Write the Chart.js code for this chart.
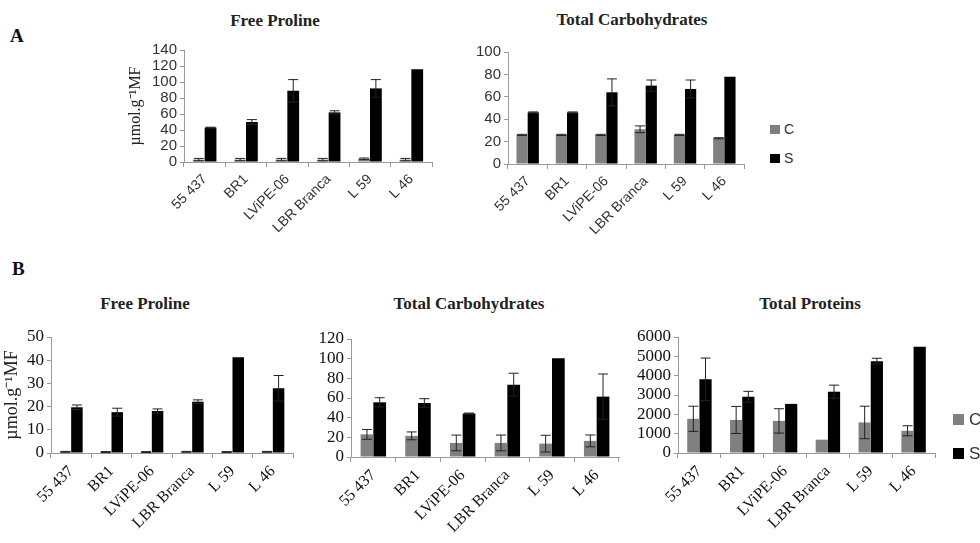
<!DOCTYPE html>
<html>
<head>
<meta charset="utf-8">
<script src="https://cdn.jsdelivr.net/npm/chart.js@4/dist/chart.umd.min.js"></script>
<style>
  html, body { margin: 0; padding: 0; background: #fff; }
  body { width: 980px; height: 543px; position: relative; overflow: hidden; }
  .box { position: absolute; }
  .panel { position: absolute; font: bold 19px "Liberation Serif", serif; line-height: 1; color: #111; }
  .title { position: absolute; transform: translateX(-50%); white-space: nowrap;
           font: bold 17px "Liberation Serif", serif; line-height: 1; color: #222; }
  .leg { position: absolute; font-family: "Liberation Sans", sans-serif; color: #333; line-height: 1; white-space: nowrap; }
  .leg span { display: inline-block; vertical-align: middle; }
</style>
</head>
<body>
<div class="panel" style="left:10px;top:26px;">A</div>
<div class="panel" style="left:12px;top:259px;">B</div>

<div class="title" style="left:275px;top:12px;">Free Proline</div>
<div class="title" style="left:632px;top:11px;">Total Carbohydrates</div>
<div class="title" style="left:145px;top:295px;">Free Proline</div>
<div class="title" style="left:469px;top:295px;">Total Carbohydrates</div>
<div class="title" style="left:810px;top:295px;">Total Proteins</div>

<div class="box" style="left:110px;top:30px;width:335px;height:215px;"><canvas id="a1"></canvas></div>
<div class="box" style="left:450px;top:30px;width:310px;height:217px;"><canvas id="a2"></canvas></div>
<div class="box" style="left:0px;top:315px;width:305px;height:226px;"><canvas id="b1"></canvas></div>
<div class="box" style="left:300px;top:315px;width:330px;height:226px;"><canvas id="b2"></canvas></div>
<div class="box" style="left:625px;top:315px;width:320px;height:226px;"><canvas id="b3"></canvas></div>

<div class="leg" style="left:770px;top:121px;font-size:14px;"><span style="width:10px;height:9px;background:#808080;margin-right:4px;"></span><span>C</span></div>
<div class="leg" style="left:770px;top:150px;font-size:14px;"><span style="width:10px;height:9px;background:#000;margin-right:4px;"></span><span>S</span></div>
<div class="leg" style="left:953px;top:410px;font-size:17px;"><span style="width:11px;height:11px;background:#808080;margin-right:5px;"></span><span>C</span></div>
<div class="leg" style="left:953px;top:444px;font-size:17px;"><span style="width:11px;height:11px;background:#000;margin-right:5px;"></span><span>S</span></div>

<script>
const cultivars = ['55 437', 'BR1', 'LViPE-06', 'LBR Branca', 'L 59', 'L 46'];
const yLabel = 'µmol.g⁻¹MF';

// A - free proline
const prolineA_C = [3, 3, 3, 3, 4, 3];
const prolineA_Cerr = [1.5, 1.5, 1.5, 1.5, 1, 1.5];
const prolineA_S = [43, 50, 89, 62, 92, 116];
const prolineA_Serr = [0.5, 3, 14, 2, 11, 0];

// A - total carbohydrates
const carboA_C = [26, 26, 26, 31, 26, 23];
const carboA_Cerr = [0.5, 0.5, 0.5, 3, 0.5, 0.5];
const carboA_S = [46, 46, 64, 70, 67, 78];
const carboA_Serr = [0.5, 0.5, 12, 5, 8, 0];

// B - free proline
const prolineB_C = [0.5, 0.4, 0.4, 0.5, 0.4, 0.5];
const prolineB_Cerr = [0.2, 0.2, 0.2, 0.2, 0.2, 0.2];
const prolineB_S = [19.7, 17.6, 18.1, 22.1, 41.3, 27.9];
const prolineB_Serr = [1, 1.7, 0.9, 0.8, 0, 5.5];

// B - total carbohydrates
const carboB_C = [23, 21.5, 14.3, 14.3, 13.6, 16.4];
const carboB_Cerr = [5, 4, 8, 8, 8.5, 6];
const carboB_S = [55.6, 54.9, 44.2, 73.6, 100.4, 61.4];
const carboB_Serr = [4.7, 4.4, 0.5, 11.6, 0, 23];

// B - total proteins
const proteinB_C = [1770, 1710, 1660, 690, 1580, 1150];
const proteinB_Cerr = [650, 700, 630, 0, 840, 260];
const proteinB_S = [3810, 2910, 2540, 3170, 4750, 5490];
const proteinB_Serr = [1100, 280, 0, 340, 150, 0];

// draws the I-shaped error bars on top of each bar
const errorBars = {
  id: 'errorBars',
  afterDatasetsDraw(chart) {
    const ctx = chart.ctx;
    const y = chart.scales.y;
    chart.data.datasets.forEach((ds, i) => {
      const meta = chart.getDatasetMeta(i);
      meta.data.forEach((bar, j) => {
        const err = ds.errors[j];
        if (!err) return;
        const v = ds.data[j];
        const top = y.getPixelForValue(v + err);
        const bot = y.getPixelForValue(Math.max(v - err, 0));
        ctx.save();
        ctx.strokeStyle = '#222';
        ctx.lineWidth = 1;
        ctx.beginPath();
        ctx.moveTo(bar.x, top); ctx.lineTo(bar.x, bot);
        ctx.moveTo(bar.x - 5, top); ctx.lineTo(bar.x + 5, top);
        ctx.moveTo(bar.x - 5, bot); ctx.lineTo(bar.x + 5, bot);
        ctx.stroke();
        ctx.restore();
      });
    });
  }
};

function makeChart(id, c, cErr, s, sErr, o) {
  const tickFont = o.serif
    ? { family: '"Liberation Serif", serif', size: 17 }
    : { family: '"Liberation Sans", sans-serif', size: 15 };
  const xFont = o.serif
    ? { family: '"Liberation Serif", serif', size: 16 }
    : { family: '"Liberation Sans", sans-serif', size: 14 };
  return new Chart(document.getElementById(id), {
    type: 'bar',
    data: {
      labels: cultivars,
      datasets: [
        { label: 'C', data: c, errors: cErr, backgroundColor: '#808080' },
        { label: 'S', data: s, errors: sErr, backgroundColor: '#000000' }
      ]
    },
    options: {
      responsive: true,
      maintainAspectRatio: false,
      animation: false,
      layout: { padding: { top: o.pt, right: o.pr, left: 0, bottom: 0 } },
      datasets: { bar: { categoryPercentage: 0.57, barPercentage: 1 } },
      plugins: { legend: { display: false }, tooltip: { enabled: false } },
      scales: {
        x: {
          grid: { drawOnChartArea: false, color: '#999', tickLength: 5, offset: true },
          border: { color: '#999' },
          ticks: { font: xFont, color: o.serif ? '#111' : '#333', minRotation: 45, maxRotation: 45, autoSkip: false, padding: 4 },
          afterFit: (sc) => { sc.height = o.xh; }
        },
        y: {
          min: 0, max: o.max,
          grid: { drawOnChartArea: false, color: '#999', tickLength: 4 },
          border: { color: '#999' },
          ticks: {
            stepSize: o.step, autoSkip: false, font: tickFont,
            color: o.serif ? '#111' : '#333', padding: 3,
            callback: (v) => String(v)
          },
          title: o.title ? {
            display: true, text: yLabel, color: '#222',
            font: { family: '"Liberation Serif", serif', size: o.titleSize },
            padding: { top: o.titlePad, bottom: 0 }
          } : { display: false },
          afterFit: (sc) => { sc.width = o.yw; }
        }
      }
    },
    plugins: [errorBars]
  });
}

makeChart('a1', prolineA_C, prolineA_Cerr, prolineA_S, prolineA_Serr,
  { max: 140, step: 20, pt: 20, pr: 13, xh: 83, yw: 74, title: true, titleSize: 16, titlePad: 16 });
makeChart('a2', carboA_C, carboA_Cerr, carboA_S, carboA_Serr,
  { max: 100, step: 20, pt: 22, pr: 16, xh: 83, yw: 58 });
makeChart('b1', prolineB_C, prolineB_Cerr, prolineB_S, prolineB_Serr,
  { serif: true, max: 50, step: 10, pt: 22, pr: 12, xh: 88, yw: 51, title: true, titleSize: 18, titlePad: 1 });
makeChart('b2', carboB_C, carboB_Cerr, carboB_S, carboB_Serr,
  { serif: true, max: 120, step: 20, pt: 24, pr: 11, xh: 84, yw: 51 });
makeChart('b3', proteinB_C, proteinB_Cerr, proteinB_S, proteinB_Serr,
  { serif: true, max: 6000, step: 1000, pt: 22, pr: 10, xh: 88, yw: 53 });
</script>
</body>
</html>
